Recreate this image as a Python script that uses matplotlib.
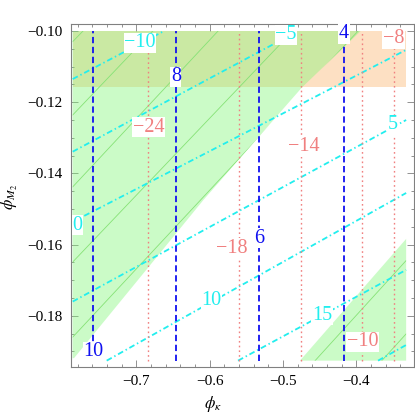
import numpy as np
import matplotlib
matplotlib.use("Agg")
import matplotlib.pyplot as plt
from matplotlib.patches import Polygon, Rectangle
from matplotlib.ticker import MultipleLocator, FuncFormatter

plt.rcParams["font.family"] = ["Liberation Serif", "DejaVu Serif"]
plt.rcParams["mathtext.fontset"] = "stix"

# extent of the plotted region
x_lo, x_hi = -0.787, -0.332
y_lo, y_hi = -0.1926, -0.10

# excluded band at the top (peach)
band_y_bottom = -0.1158

# allowed regions (green)
green_upper = [(-0.787, -0.10), (-0.3939, -0.10), (-0.4743, -0.1159),
               (-0.6086, -0.1475), (-0.785, -0.1919), (-0.787, -0.1919)]
green_lower = [(-0.4768, -0.1926), (-0.332, -0.1584), (-0.332, -0.1926)]

# thin mesh lines inside the green regions: (x0, y0, x1, y1)
mesh_x0 = [-0.7868, -0.7868, -0.7868, -0.7868, -0.7868, -0.4562, -0.3652]
mesh_y0 = [-0.1030, -0.1236, -0.1438, -0.1649, -0.1860, -0.1926, -0.1926]
mesh_x1 = [-0.7727, -0.6776, -0.5885, -0.4866, -0.3975, -0.3321, -0.3321]
mesh_y1 = [-0.10, -0.10, -0.10, -0.10, -0.10, -0.1645, -0.1851]

# blue dashed contours (vertical)
blue_levels = [10, 8, 6, 4]
blue_x = [-0.7587, -0.6462, -0.5322, -0.4166]
blue_label_y = [-0.1901, -0.1129, -0.1582, -0.1007]

# red dotted contours (vertical)
red_levels = [-24, -18, -14, -10, -8]
red_x = [-0.6836, -0.5595, -0.4753, -0.3917, -0.3484]
red_label_x = [-0.6836, -0.5705, -0.4713, -0.3917, -0.3490]
red_label_y = [-0.1270, -0.1610, -0.1325, -0.1873, -0.1021]

# cyan dash-dot contours
cyan_levels = [-10, -5, 0, 5, 10, 15, 20]
cyan_x0 = [-0.7868, -0.7868, -0.7868, -0.7868, -0.7404, -0.5613, -0.3703]
cyan_y0 = [-0.1135, -0.1339, -0.1536, -0.1760, -0.1926, -0.1926, -0.1926]
cyan_x1 = [-0.6621, -0.4794, -0.332, -0.332, -0.332, -0.332, -0.332]
cyan_y1 = [-0.10, -0.10, -0.1053, -0.1250, -0.1455, -0.1671, -0.1882]
cyan_label_levels = [-10, -5, 0, 5, 10, 15]
cyan_label_x = [-0.6948, -0.4959, -0.7807, -0.3498, -0.5971, -0.4467]
cyan_label_y = [-0.1033, -0.1011, -0.1545, -0.1264, -0.1756, -0.1798]

peach = "#FDE0C3"
green = (127/255, 247/255, 117/255)
mesh_col = "#86E276"
blue_col = "#1010F0"
red_col = "#F08080"
cyan_col = "#22EEEE"


def fmt(v):
    return str(v).replace("-", "\u2212")


fig = plt.figure(figsize=(4.15, 4.13), dpi=100)
ax = fig.add_axes([0.1718, 0.1121, 0.8258, 0.8286])

ax.add_patch(Rectangle((x_lo, band_y_bottom), x_hi - x_lo, y_hi - band_y_bottom,
                       facecolor=peach, edgecolor="none", zorder=1))
polys = []
for verts in (green_upper, green_lower):
    p = Polygon(verts, closed=True, facecolor=green, alpha=0.4,
                edgecolor="none", zorder=2)
    ax.add_patch(p)
    polys.append(p)

for i in range(len(mesh_x0)):
    ln, = ax.plot([mesh_x0[i], mesh_x1[i]], [mesh_y0[i], mesh_y1[i]],
                  color=mesh_col, lw=0.6, zorder=3)
    ln.set_clip_path(polys[0] if i < 5 else polys[1])

for i in range(len(cyan_levels)):
    ax.plot([cyan_x0[i], cyan_x1[i]], [cyan_y0[i], cyan_y1[i]], color=cyan_col,
            lw=1.3, dashes=(3.2, 1.6, 0.8, 1.6), zorder=4)
for x in red_x:
    ax.plot([x, x], [y_lo, y_hi], color=red_col, lw=1.0, dashes=(1.2, 2.2), zorder=4)
for x in blue_x:
    ax.plot([x, x], [y_lo, y_hi], color=blue_col, lw=1.3, dashes=(3.5, 2), zorder=4)

box = dict(facecolor="white", edgecolor="none", pad=0.5)
for lv, x, y in zip(blue_levels, blue_x, blue_label_y):
    ax.text(x, y, fmt(lv), color=blue_col, fontsize=14.5, ha="center", va="center",
            bbox=box, zorder=6)
for lv, x, y in zip(red_levels, red_label_x, red_label_y):
    ax.text(x, y, fmt(lv), color=red_col, fontsize=14.5, ha="center", va="center",
            bbox=box, zorder=6)
for lv, x, y in zip(cyan_label_levels, cyan_label_x, cyan_label_y):
    ax.text(x, y, fmt(lv), color=cyan_col, fontsize=14.5, ha="center", va="center",
            bbox=box, zorder=6)

ax.set_xlim(-0.78868, -0.32128)
ax.set_ylim(-0.19430, -0.09817)

ax.xaxis.set_major_locator(MultipleLocator(0.1))
ax.xaxis.set_minor_locator(MultipleLocator(0.02))
ax.yaxis.set_major_locator(MultipleLocator(0.02))
ax.yaxis.set_minor_locator(MultipleLocator(0.005))
ax.xaxis.set_major_formatter(FuncFormatter(lambda v, p: fmt(f"{v:.1f}")))
ax.yaxis.set_major_formatter(FuncFormatter(lambda v, p: fmt(f"{v:.2f}")))
ax.tick_params(which="both", direction="in", top=True, right=True,
               color="#808080", labelsize=11, width=0.6)
ax.tick_params(which="major", length=5, pad=6)
ax.tick_params(which="minor", length=2.5)
for s in ax.spines.values():
    s.set_color("#808080")
    s.set_linewidth(0.8)

ax.set_xlabel(r"$\phi_\kappa$", fontsize=12)
ax.set_ylabel(r"$\phi_{M_2}$", fontsize=12)
ax.xaxis.set_label_coords(0.413, -0.08)
ax.yaxis.set_label_coords(-0.15, 0.496)

fig.savefig("out.png", dpi=100)
